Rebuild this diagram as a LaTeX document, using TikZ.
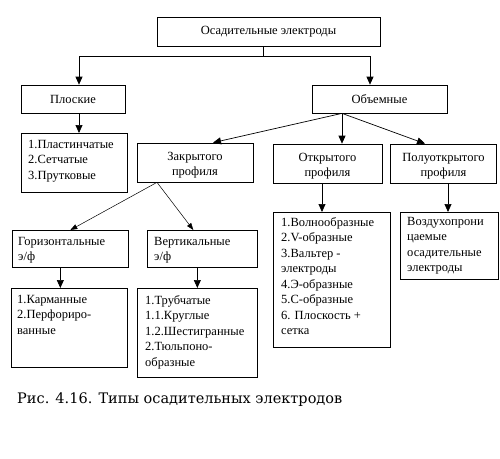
\documentclass[tikz,border=0pt]{standalone}
\usepackage{fontspec}
\setmainfont{Liberation Serif}
\newfontfamily\capfont{DejaVu Serif}
\usetikzlibrary{arrows.meta}

\begin{document}
\begin{tikzpicture}
        [x=1pt,y=-1pt,
         box/.style={draw,line width=0.7pt,inner sep=0pt,align=center,
                     font=\fontsize{12.5}{15.5}\selectfont},
         txt/.style={anchor=north west,align=left,inner xsep=7pt,inner ysep=7pt,
                     font=\fontsize{12.5}{15.5}\selectfont},
         ptxt/.style={anchor=center,align=center,inner sep=0pt,yshift=-2.5pt,
                     font=\fontsize{12.5}{15.5}\selectfont},
         arr/.style={line width=0.7pt,-{Triangle[width=7pt,length=8pt]}},
         thin/.style={line width=0.5pt,-{Triangle[width=5pt,length=7pt]}}]
        \useasboundingbox (0,0) rectangle (500,458);

        % top levels
        \node[box,minimum width=223pt,minimum height=29pt] (root) at (268.5,31.5) {Осадительные электроды};
        \node[box,minimum width=104pt,minimum height=28pt] (flat) at (73,99)      {Плоские};
        \node[box,minimum width=135pt,minimum height=28pt] (vol)  at (379.5,99)   {Объемные};

        % profiles
        \node[box,minimum width=116pt,minimum height=39pt,
              label={[ptxt]center:{Закрытого\\профиля}}] (closed) at (195,162.5) {};
        \node[box,minimum width=109pt,minimum height=39pt,
              label={[ptxt]center:{Открытого\\профиля}}] (open) at (327.5,163.5) {};
        \node[box,minimum width=106pt,minimum height=39pt,
              label={[ptxt]center:{Полуоткрытого\\профиля}}] (half) at (443.5,163.5) {};

        % boxes with lists
        \node[box,anchor=north west,minimum width=106pt,minimum height=59pt,
              label={[txt]north west:{1.Пластинчатые\\2.Сетчатые\\3.Прутковые}}] (flatlist) at (21,133) {};
        \node[box,anchor=north west,minimum width=116pt,minimum height=37pt,
              label={[txt,inner xsep=6pt]north west:{Горизонтальные\\э/ф}}] (hor) at (12,230) {};
        \node[box,anchor=north west,minimum width=110pt,minimum height=37pt,
              label={[txt]north west:{Вертикальные\\э/ф}}] (vert) at (147,230) {};
        \node[box,anchor=north west,minimum width=116pt,minimum height=79pt,
              label={[txt,inner xsep=6pt]north west:{1.Карманные\\2.Перфориро-\\ванные}}] (horlist) at (11,288) {};
        \node[box,anchor=north west,minimum width=120pt,minimum height=89pt,
              label={[txt,inner xsep=8pt]north west:{1.Трубчатые\\1.1.Круглые\\1.2.Шестигранные\\2.Тюльпоно-\\образные}}] (vertlist) at (137,288) {};
        \node[box,anchor=north west,minimum width=117pt,minimum height=135pt,
              label={[txt,inner ysep=5pt,inner xsep=8pt]north west:{1.Волнообразные\\2.V-образные\\3.Вальтер -\\электроды\\4.Э-образные\\5.С-образные\\6. Плоскость +\\сетка}}] (openlist) at (273,212) {};
        \node[box,anchor=north west,minimum width=98pt,minimum height=67pt,
              label={[txt,inner ysep=5pt]north west:{Воздухопрони\\цаемые\\осадительные\\электроды}}] (halflist) at (400,212) {};

        % caption
        \node[anchor=west,inner sep=0pt,font=\capfont\fontsize{14.5}{16}\selectfont] (caption) at (17,400)
              {Рис. 4.16. Типы осадительных электродов};

        % root split
        \coordinate (fork) at (263,56);
        \draw[line width=0.7pt] (root.south -| fork) -- (fork);
        \draw[arr] (fork) -| ([xshift=6pt]flat.north);
        \draw[arr] (fork) -| ([xshift=-9.5pt]vol.north);
        \draw[arr] ([xshift=6pt]flat.south) -- ([xshift=6pt]flat.south |- flatlist.north);

        % from volume
        \draw[arr] ([xshift=-37.5pt]vol.south) -- ([xshift=18pt]closed.north);
        \draw[arr] ([xshift=-37.5pt]vol.south) -- ([xshift=14.5pt]open.north);
        \draw[arr] ([xshift=-37.5pt]vol.south) -- ([xshift=-18.5pt]half.north);

        % from closed profile
        \draw[thin] ([xshift=-38pt]closed.south) -- (hor.north);
        \draw[thin] ([xshift=-38pt]closed.south) -- ([xshift=-9pt]vert.north);

        % down to lists
        \draw[arr] ([xshift=-10pt]hor.south)  -- ([xshift=-10pt]hor.south |- horlist.north);
        \draw[arr] ([xshift=-5pt]vert.south)  -- ([xshift=-5pt]vert.south |- vertlist.north);
        \draw[arr] ([xshift=-5.5pt]open.south) -- ([xshift=-5.5pt]open.south |- openlist.north);
        \draw[arr] ([xshift=4.5pt]half.south)  -- ([xshift=4.5pt]half.south |- halflist.north);
\end{tikzpicture}
\end{document}
